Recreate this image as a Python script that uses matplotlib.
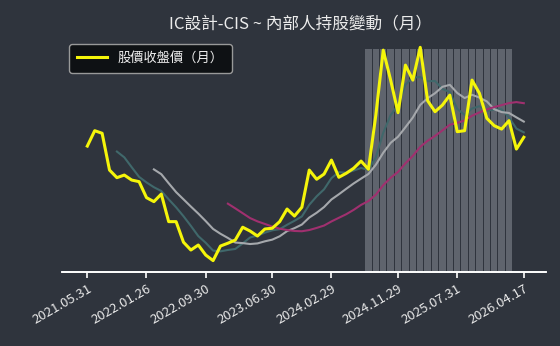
import matplotlib
matplotlib.use("Agg")
import matplotlib.pyplot as plt
import numpy as np

plt.rcParams['font.family'] = ['Noto Sans CJK TC', 'DejaVu Sans']

# monthly close (arbitrary units)
price = [77.0, 84.7, 83.4, 65.0, 61.2, 62.5, 60.0, 59.2, 51.2, 49.2,
         53.0, 39.2, 39.2, 28.9, 25.0, 27.5, 22.5, 19.7, 27.0, 28.4,
         30.0, 36.4, 34.5, 32.0, 35.5, 35.9, 39.2, 45.5, 42.0, 46.4,
         65.0, 60.4, 63.0, 70.0, 61.4, 63.4, 65.9, 69.5, 65.4, 92.5,
         125.0, 110.0, 93.7, 117.5, 110.0, 126.4, 99.7, 94.2, 97.5, 102.5,
         84.2, 84.7, 110.0, 103.4, 90.9, 87.2, 85.5, 89.7, 75.5, 81.4]

# moving-average lines (5 / 10 / 20 months)
ma5 = [np.nan] * 4 + [
    74.26, 71.36, 66.42, 61.58, 58.82, 56.42, 54.52, 50.36, 46.36, 41.9,
    37.06, 31.96, 28.62, 24.72, 24.34, 25.02, 25.52, 28.3, 31.26, 32.26,
    33.68, 34.86, 35.42, 37.62, 39.62, 41.8, 47.62, 51.86, 55.36, 60.96,
    63.96, 63.64, 64.74, 66.04, 65.12, 71.34, 83.66, 92.48, 97.32, 107.74,
    111.24, 111.52, 109.46, 109.56, 105.56, 104.06, 95.62, 92.62, 95.78, 96.96,
    94.64, 95.24, 95.4, 91.34, 85.76, 83.86]
ma10 = [np.nan] * 9 + [
    65.34, 62.94, 58.39, 53.97, 50.36, 46.74, 43.24, 39.49, 35.54, 33.12,
    31.04, 28.74, 28.46, 27.99, 28.3, 29.35, 30.19, 31.86, 34.44, 35.94,
    37.74, 41.24, 43.64, 46.49, 50.29, 52.88, 55.63, 58.3, 60.7, 63.04,
    67.65, 73.65, 78.61, 81.68, 86.43, 91.29, 97.59, 100.97, 103.44, 106.65,
    107.65, 103.57, 101.04, 102.67, 101.26, 99.35, 95.43, 94.01, 93.56, 91.36,
    89.25]
ma20 = [np.nan] * 19 + [
    48.19, 45.84, 43.42, 40.98, 39.33, 38.05, 36.72, 35.67, 34.99, 34.53,
    34.39, 34.99, 36.05, 37.24, 39.3, 41.11, 42.91, 45.08, 47.57, 49.49,
    52.69, 57.44, 61.12, 64.09, 68.36, 72.09, 76.61, 79.64, 82.07, 84.84,
    87.65, 88.61, 89.83, 92.17, 93.84, 95.32, 96.51, 97.49, 98.5, 99.01,
    98.45]

# months flagged with insider holding changes
insider = [0] * 38 + [1] * 20 + [0] * 2
tick_pos = [0, 8, 16, 25, 33, 42, 50, 59]
tick_labels = ["2021.05.31", "2022.01.26", "2022.09.30", "2023.06.30",
               "2024.02.29", "2024.11.29", "2025.07.31", "2026.04.17"]

bg = "#2f343d"
fig = plt.figure(figsize=(5.6, 3.46), dpi=100, facecolor=bg)
ax = fig.add_axes([0.111, 0.213, 0.864, 0.671])
axb = ax.twinx()
ax.set_zorder(axb.get_zorder() + 1)
ax.patch.set_visible(False)
axb.set_facecolor(bg)

x = np.arange(len(price))
axb.bar(x, insider, width=0.85, color="#5f646d", linewidth=0)
axb.set_ylim(0, 1.04)
axb.set_yticks([])

ax.plot(x, ma5, color="#40686b", lw=1.5)
ax.plot(x, ma10, color="#a5a8ac", lw=1.5)
ax.plot(x, ma20, color="#a0306f", lw=1.5)
ax.plot(x, price, color="#f5f50a", lw=2.2, label="股價收盤價（月）")

ax.set_xlim(-3.4, 62.0)
ax.set_ylim(13.85, 130)
ax.set_yticks([])
for a in (ax, axb):
    for side in ("top", "right", "left"):
        a.spines[side].set_visible(False)
    a.spines["bottom"].set_color("white")
    a.spines["bottom"].set_linewidth(1.2)

ax.set_xticks(tick_pos)
ax.set_xticklabels(tick_labels, rotation=30, ha="right", rotation_mode="anchor")
ax.tick_params(axis="x", colors="white", length=4, width=1.2, labelsize=9.5,
               labelcolor="#e8e8e8", pad=3)
axb.tick_params(axis="x", length=0, labelbottom=False)

leg = ax.legend(loc="upper left", bbox_to_anchor=(0.0145, 0.983), borderaxespad=0,
                fontsize=9.5, handlelength=2.3, borderpad=0.6,
                facecolor="#0d0f12", edgecolor="#a0a0a0",
                framealpha=0.95, labelcolor="#f0f0f0")

fig.text(0.536, 0.93, "IC設計-CIS ~ 內部人持股變動（月）", ha="center", va="center",
         fontsize=12, color="#ececec")

fig.savefig("out.png", facecolor=bg)
